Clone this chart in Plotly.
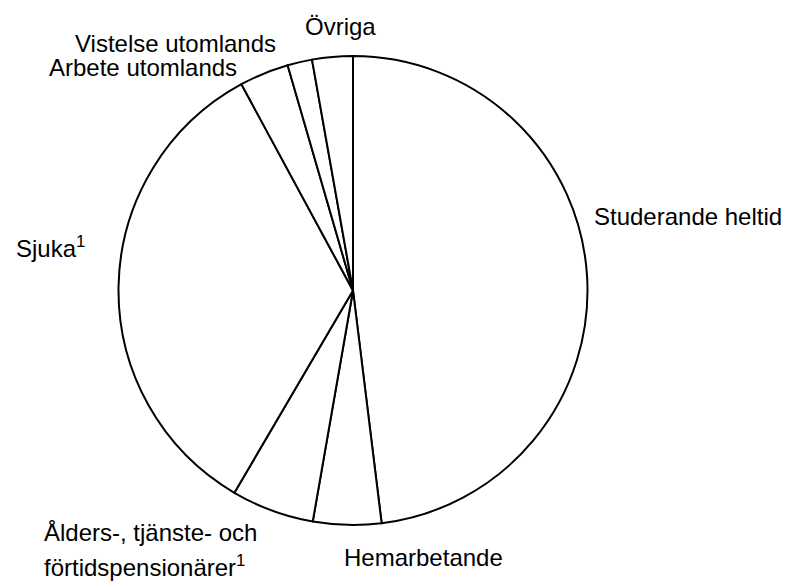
import plotly.graph_objects as go

labels = ["Studerande heltid", "Hemarbetande", "Ålders-, tjänste- och förtidspensionärer",
          "Sjuka", "Arbete utomlands", "Vistelse utomlands", "Övriga"]
values = [48.1, 4.7, 5.7, 33.7, 3.4, 1.7, 2.8]
label_text = ["Studerande heltid", "Hemarbetande", "Ålders-, tjänste- och",
              "förtidspensionärer<sup>1</sup>",
              "Sjuka<sup>1</sup>", "Arbete utomlands", "Vistelse utomlands", "Övriga"]

W, H = 797, 585
OFF = 8  # page body margin
cx, cy, r = 353 - OFF, 290.5 - OFF, 234.5

fig = go.Figure(go.Pie(
    labels=labels, values=values, sort=False, direction="clockwise", rotation=0,
    textinfo="none", hoverinfo="label+percent",
    marker=dict(colors=["white"] * len(values), line=dict(color="black", width=2)),
    domain=dict(x=[(cx - r) / W, (cx + r) / W], y=[(H - cy - r) / H, (H - cy + r) / H]),
    showlegend=False,
))

# label positions (pixel, from top-left), left-anchored, middle
pos = [(592, 216), (342, 557), (42, 532), (42, 566), (14, 247), (47, 68), (73, 43), (303, 27)]
for txt, (px, py) in zip(label_text, pos):
    fig.add_annotation(x=(px - OFF) / W, y=1 - (py - OFF) / H, xref="paper", yref="paper", text=txt,
                       showarrow=False, xanchor="left", yanchor="middle", align="left",
                       font=dict(family="Liberation Sans, Arial", size=24, color="black"))

fig.update_layout(width=W, height=H, margin=dict(l=0, r=0, t=0, b=0),
                  paper_bgcolor="white", plot_bgcolor="white")
fig.write_html("out.html")
